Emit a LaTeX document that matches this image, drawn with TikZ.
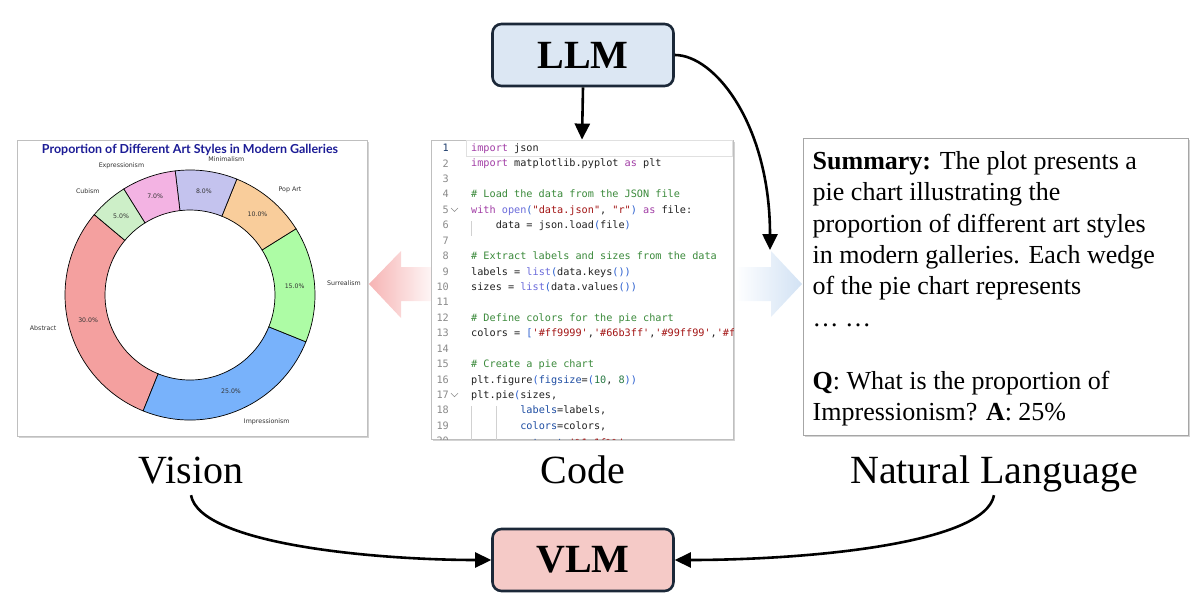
\documentclass[tikz,border=0pt]{standalone}
\usepackage{fontspec}
\setmainfont{Liberation Serif}
\setsansfont{DejaVu Sans}
\setmonofont{DejaVu Sans Mono}
\newfontfamily\charttitlefont{Lato}
\usetikzlibrary{arrows.meta,shadows,calc}
\definecolor{boxline}{HTML}{1B2838}
\definecolor{llmfill}{HTML}{DCE7F3}
\definecolor{vlmfill}{HTML}{F5CAC7}
\definecolor{pinkarrow}{HTML}{F6B4B4}
\definecolor{bluearrow}{HTML}{D2E2F4}
\definecolor{cAbs}{HTML}{F4A09F}
\definecolor{cImp}{HTML}{78B2FB}
\definecolor{cSur}{HTML}{ADFCA5}
\definecolor{cPop}{HTML}{F9CD9B}
\definecolor{cMin}{HTML}{C4C3EE}
\definecolor{cExp}{HTML}{F3B3E3}
\definecolor{cCub}{HTML}{CDEFC8}
\definecolor{titlenavy}{HTML}{1C1C96}
\definecolor{kwcol}{HTML}{A23EA6}
\definecolor{fncol}{HTML}{6B6BDB}
\definecolor{stcol}{HTML}{A31515}
\definecolor{cmcol}{HTML}{3B8A3B}
\definecolor{pacol}{HTML}{2B5FCF}
\definecolor{arcol}{HTML}{1F4EA3}
\definecolor{nmcol}{HTML}{2A7A45}
\definecolor{codeblack}{HTML}{222222}
\definecolor{lnumcol}{HTML}{8A8A8A}
\definecolor{lnumact}{HTML}{1A3A6A}
\newcommand\ckw[1]{\textcolor{kwcol}{#1}}
\newcommand\cfn[1]{\textcolor{fncol}{#1}}
\newcommand\cst[1]{\textcolor{stcol}{#1}}
\newcommand\ccm[1]{\textcolor{cmcol}{#1}}
\newcommand\cpa[1]{\textcolor{pacol}{#1}}
\newcommand\car[1]{\textcolor{arcol}{#1}}
\newcommand\cnm[1]{\textcolor{nmcol}{#1}}
\newcommand\wedgeseg[3]{\filldraw[fill=#3, draw=black, line width=0.7pt] (#1:125) arc[start angle=#1, end angle=#2, radius=125] -- (#2:85) arc[start angle=#2, end angle=#1, radius=85] -- cycle;}
\begin{document}
\begin{tikzpicture}[x=1pt,y=-1pt,
  model/.style={draw=boxline, line width=2.6pt, rounded corners=9pt, minimum width=181pt, minimum height=62pt, inner sep=0pt, font=\fontsize{40}{44}\selectfont\bfseries},
  panel/.style={draw=black!25, line width=0.8pt, fill=white, inner sep=0pt, drop shadow={opacity=0.35, shadow xshift=2pt, shadow yshift=-2pt}},
  arr/.style={line width=2.6pt, -{Triangle[width=15pt,length=16pt]}},
  captext/.style={font=\fontsize{40}{44}\selectfont, anchor=base, text depth=9pt, inner sep=3pt},
  codeln/.style={anchor=base west, inner sep=0pt, font=\ttfamily\fontsize{10.2}{12}\selectfont, text=codeblack},
  lnum/.style={anchor=base east, inner sep=0pt, font=\ttfamily\fontsize{10.2}{12}\selectfont, text=lnumcol},
  lab/.style={font=\sffamily\fontsize{6.3}{7}\selectfont, inner sep=0pt, text=black!80},
  pct/.style={font=\sffamily\fontsize{6.2}{7}\selectfont, inner sep=0pt, text=black!80},
  guide/.style={draw=black!18, line width=0.7pt}
]
\useasboundingbox (0,0) rectangle (1200,615);

% fat arrows (behind panels)
\shade[left color=pinkarrow, right color=white] (369,284) -- (401,251) -- (401,267) -- (440,267) -- (440,301) -- (401,301) -- (401,318) -- cycle;
\shade[left color=white, right color=bluearrow] (735,267) -- (771,267) -- (771,251) -- (802,284) -- (771,317) -- (771,301) -- (735,301) -- cycle;

% panels
\node[panel, minimum width=350pt, minimum height=296pt] (chart) at (192,288) {};
\node[panel, minimum width=302pt, minimum height=299pt] (code) at (582,289.5) {};
\node[panel, draw=black!35, minimum width=385pt, minimum height=297pt] (summary) at (995.5,286.5) {};

% chart
\node[inner sep=0pt, text=titlenavy] (ctitle) at (190,150) {\resizebox{296pt}{!}{\charttitlefont\bfseries Proportion of Different Art Styles in Modern Galleries}};
\begin{scope}[shift={(190,295)}, y=1pt]
  \wedgeseg{140}{248}{cAbs}
  \wedgeseg{248}{338}{cImp}
  \wedgeseg{338}{392}{cSur}
  \wedgeseg{392}{428}{cPop}
  \wedgeseg{428}{456.8}{cMin}
  \wedgeseg{456.8}{482}{cExp}
  \wedgeseg{482}{500}{cCub}
  \node[lab, anchor=east] (lAbs) at (194:137.5) {Abstract};
  \node[lab, anchor=west] (lImp) at (293:137.5) {Impressionism};
  \node[lab, anchor=west] (lSur) at (5:137.5) {Surrealism};
  \node[lab, anchor=west] (lPop) at (50:137.5) {Pop Art};
  \node[lab, anchor=west] (lMin) at (82.4:137.5) {Minimalism};
  \node[lab, anchor=east] (lExp) at (109.4:137.5) {Expressionism};
  \node[lab, anchor=east] (lCub) at (131:137.5) {Cubism};
  \node[pct] (pAbs) at (194:105) {30.0\%};
  \node[pct] (pImp) at (293:105) {25.0\%};
  \node[pct] (pSur) at (5:105) {15.0\%};
  \node[pct] (pPop) at (50:105) {10.0\%};
  \node[pct] (pMin) at (82.4:105) {8.0\%};
  \node[pct] (pExp) at (109.4:105) {7.0\%};
  \node[pct] (pCub) at (131:105) {5.0\%};
\end{scope}

% code panel content
\begin{scope}
\clip (code.north west) rectangle (code.south east);
\draw[draw=black!12, line width=0.8pt] (466,140.5) rectangle (732,156);
\foreach \i in {2,...,20} \node[lnum] (ln\i) at (449,{151.6+(\i-1)*15.43}) {\i};
\node[lnum, text=lnumact] (ln1) at (449,151.6) {1};
\draw[draw=black!45, line width=0.6pt] (451,208) -- (454.5,211.5) -- (458,208);
\draw[draw=black!45, line width=0.6pt] (451,393.2) -- (454.5,396.7) -- (458,393.2);
\draw[guide] (471.5,221) -- (471.5,236);
\draw[guide] (471.5,406) -- (471.5,445);
\draw[guide] (496,406) -- (496,445);
\node[codeln] (c1) at (471,151.6) {\ckw{import} json};
\node[codeln] (c2) at (471,167.0) {\ckw{import} matplotlib.pyplot \ckw{as} plt};
\node[codeln] (c4) at (471,197.9) {\ccm{\# Load the data from the JSON file}};
\node[codeln] (c5) at (471,213.3) {\ckw{with} \cfn{open}\cpa{(}\cst{"data.json"}, \cst{"r"}\cpa{)} \ckw{as} file:};
\node[codeln] (c6) at (471,228.8) {\phantom{xxxx}data = json.load\cpa{(}file\cpa{)}};
\node[codeln] (c8) at (471,259.6) {\ccm{\# Extract labels and sizes from the data}};
\node[codeln] (c9) at (471,275.0) {labels = \cfn{list}\cpa{(}data.keys\cpa{())}};
\node[codeln] (c10) at (471,290.5) {sizes = \cfn{list}\cpa{(}data.values\cpa{())}};
\node[codeln] (c12) at (471,321.3) {\ccm{\# Define colors for the pie chart}};
\node[codeln] (c13) at (471,336.8) {colors = \cpa{[}\cst{'\#ff9999'},\cst{'\#66b3ff'},\cst{'\#99ff99'},\cst{'\#ffcc99'}\cpa{]}};
\node[codeln] (c15) at (471,367.6) {\ccm{\# Create a pie chart}};
\node[codeln] (c16) at (471,383.1) {plt.figure\cpa{(}\car{figsize}=\cpa{(}\cnm{10}, \cnm{8}\cpa{))}};
\node[codeln] (c17) at (471,398.5) {plt.pie\cpa{(}sizes,};
\node[codeln] (c18) at (471,413.9) {\phantom{xxxxxxxx}\car{labels}=labels,};
\node[codeln] (c19) at (471,429.3) {\phantom{xxxxxxxx}\car{colors}=colors,};
\node[codeln] (c20) at (471,446.5) {\phantom{xxxxxxxx}\car{autopct}=\cst{'\%1.1f\%\%'},};
\end{scope}

% summary text
\node[anchor=north west, inner sep=0pt, align=left, font=\fontsize{26}{31.4}\selectfont] (sumtext) at (812.5,151) {\textbf{Summary:} The plot presents a\\
pie chart illustrating the\\
proportion of different art styles\\
in modern galleries. Each wedge\\
of the pie chart represents\\
… …\\[31.4pt]
\textbf{Q}: What is the proportion of\\
Impressionism? \textbf{A}: 25\%};

% captions
\node[captext] (vision) at (191,483) {Vision};
\node[captext] (codecap) at (583,483) {Code};
\node[captext] (natlang) at (994,483) {Natural Language};

% models
\node[model, fill=llmfill] (llm) at (583,55) {LLM};
\node[model, fill=vlmfill] (vlm) at (583,560) {VLM};

% connectors
\coordinate (nlin) at (770,250);
\draw[arr] (llm.south) -- (code.north);
\draw[arr] (llm.east) .. controls (715,55) and (770,125) .. (nlin);
\draw[arr] (vision.south) .. controls (200,545) and (380,560) .. (vlm.west);
\draw[arr] (natlang.south) .. controls (985,545) and (800,560) .. (vlm.east);
\end{tikzpicture}
\end{document}
